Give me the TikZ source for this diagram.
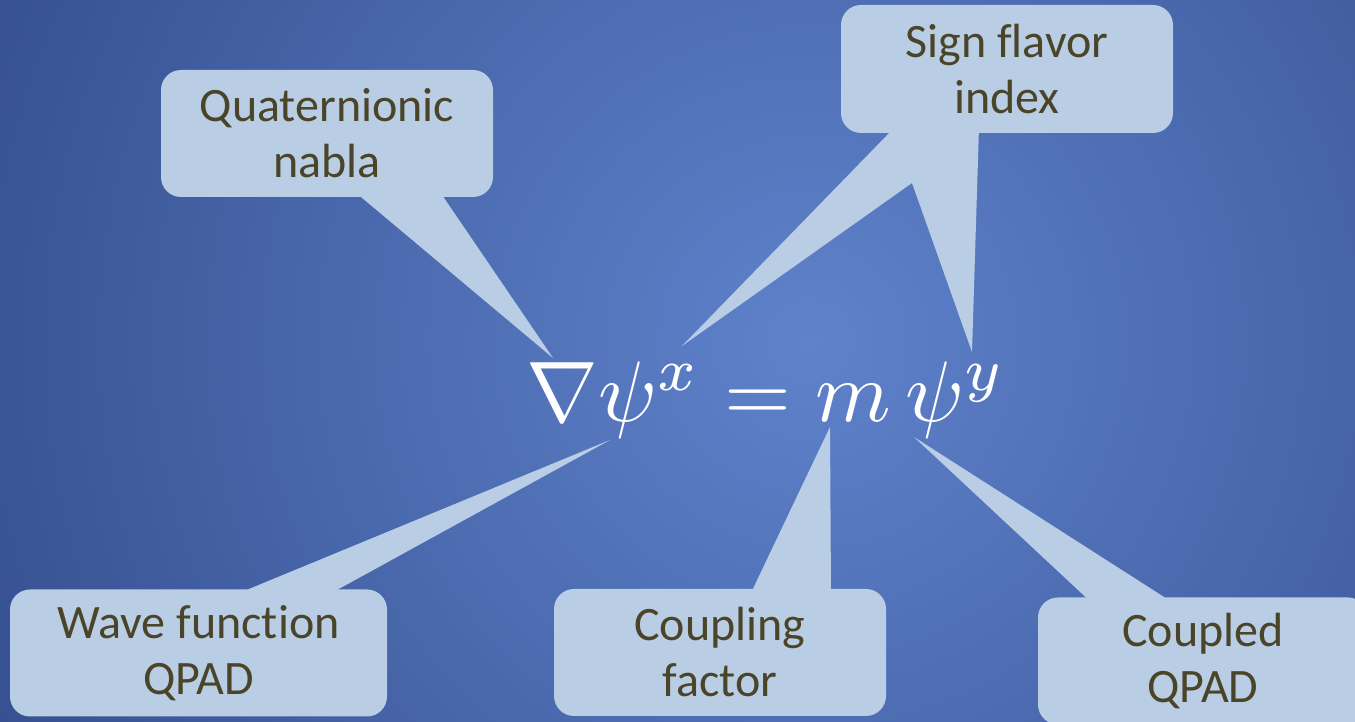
\documentclass[tikz,border=0pt]{standalone}
\usepackage{fontspec}
\setmainfont{Carlito}[Ligatures=NoCommon]
\definecolor{cfill}{HTML}{B9CDE5}
\definecolor{tcol}{HTML}{4A4429}
\definecolor{bgin}{HTML}{5F82CB}
\definecolor{bgout}{HTML}{2C4482}
\begin{document}
\begin{tikzpicture}[x=1pt,y=1pt,
  callout/.style={fill=cfill, draw=none},
  lbl/.style={callout, rounded corners=20pt, minimum width=#1, minimum height=127pt,
    inner sep=0pt, text=tcol, align=center, font=\fontsize{48}{56}\selectfont},
  eq/.style={text=white, scale=8.6, inner sep=0pt}
]
\useasboundingbox (0,0) rectangle (1355,722);
\begin{scope}
  \clip (0,0) rectangle (1355,722);
  \fill[bgout] (0,0) rectangle (1355,722);
  \shade[inner color=bgin, outer color=bgout] (810,380) circle (1120);
\end{scope}

% pointer tips and bases
\coordinate (tq) at (553,364);
\coordinate (qa) at (355,530);
\coordinate (qb) at (440,530);
\coordinate (sa) at (895,595);
\coordinate (t1) at (682,376);
\coordinate (sn) at (912,539);
\coordinate (t2) at (972,370);
\coordinate (sb) at (979,595);
\coordinate (tw) at (610,282);
\coordinate (wa) at (232,126);
\coordinate (wb) at (326,126);
\coordinate (tc) at (830,295);
\coordinate (ca) at (750,127);
\coordinate (cb) at (831,127);
\coordinate (tp) at (914,285);
\coordinate (pa) at (1093,118);
\coordinate (pb) at (1175,118);

\fill[callout] (qa) -- (tq) -- (qb) -- cycle;
\fill[callout] (sa) -- (t1) -- (sn) -- (t2) -- (sb) -- cycle;
\fill[callout] (wa) -- (tw) -- (wb) -- cycle;
\fill[callout] (ca) -- (tc) -- (cb) -- cycle;
\fill[callout] (pa) -- (tp) -- (pb) -- cycle;

\node[lbl=332pt] (q) at (327,588.5) {Quaternionic\\nabla};
\node[lbl=332pt, minimum height=128pt] (s) at (1007,653) {Sign flavor\\index};
\node[lbl=377pt] (w) at (198.5,69) {Wave func\mbox{t}ion\\QPAD};
\node[lbl=332pt] (c) at (720,69.5) {Coupling\\factor};
\node[lbl=330pt] (p) at (1203,61) {Coupled\\QPAD};

\node[eq] (e) at (766,322) {$\nabla\psi^x = m\,\psi^y$};
\end{tikzpicture}
\end{document}
